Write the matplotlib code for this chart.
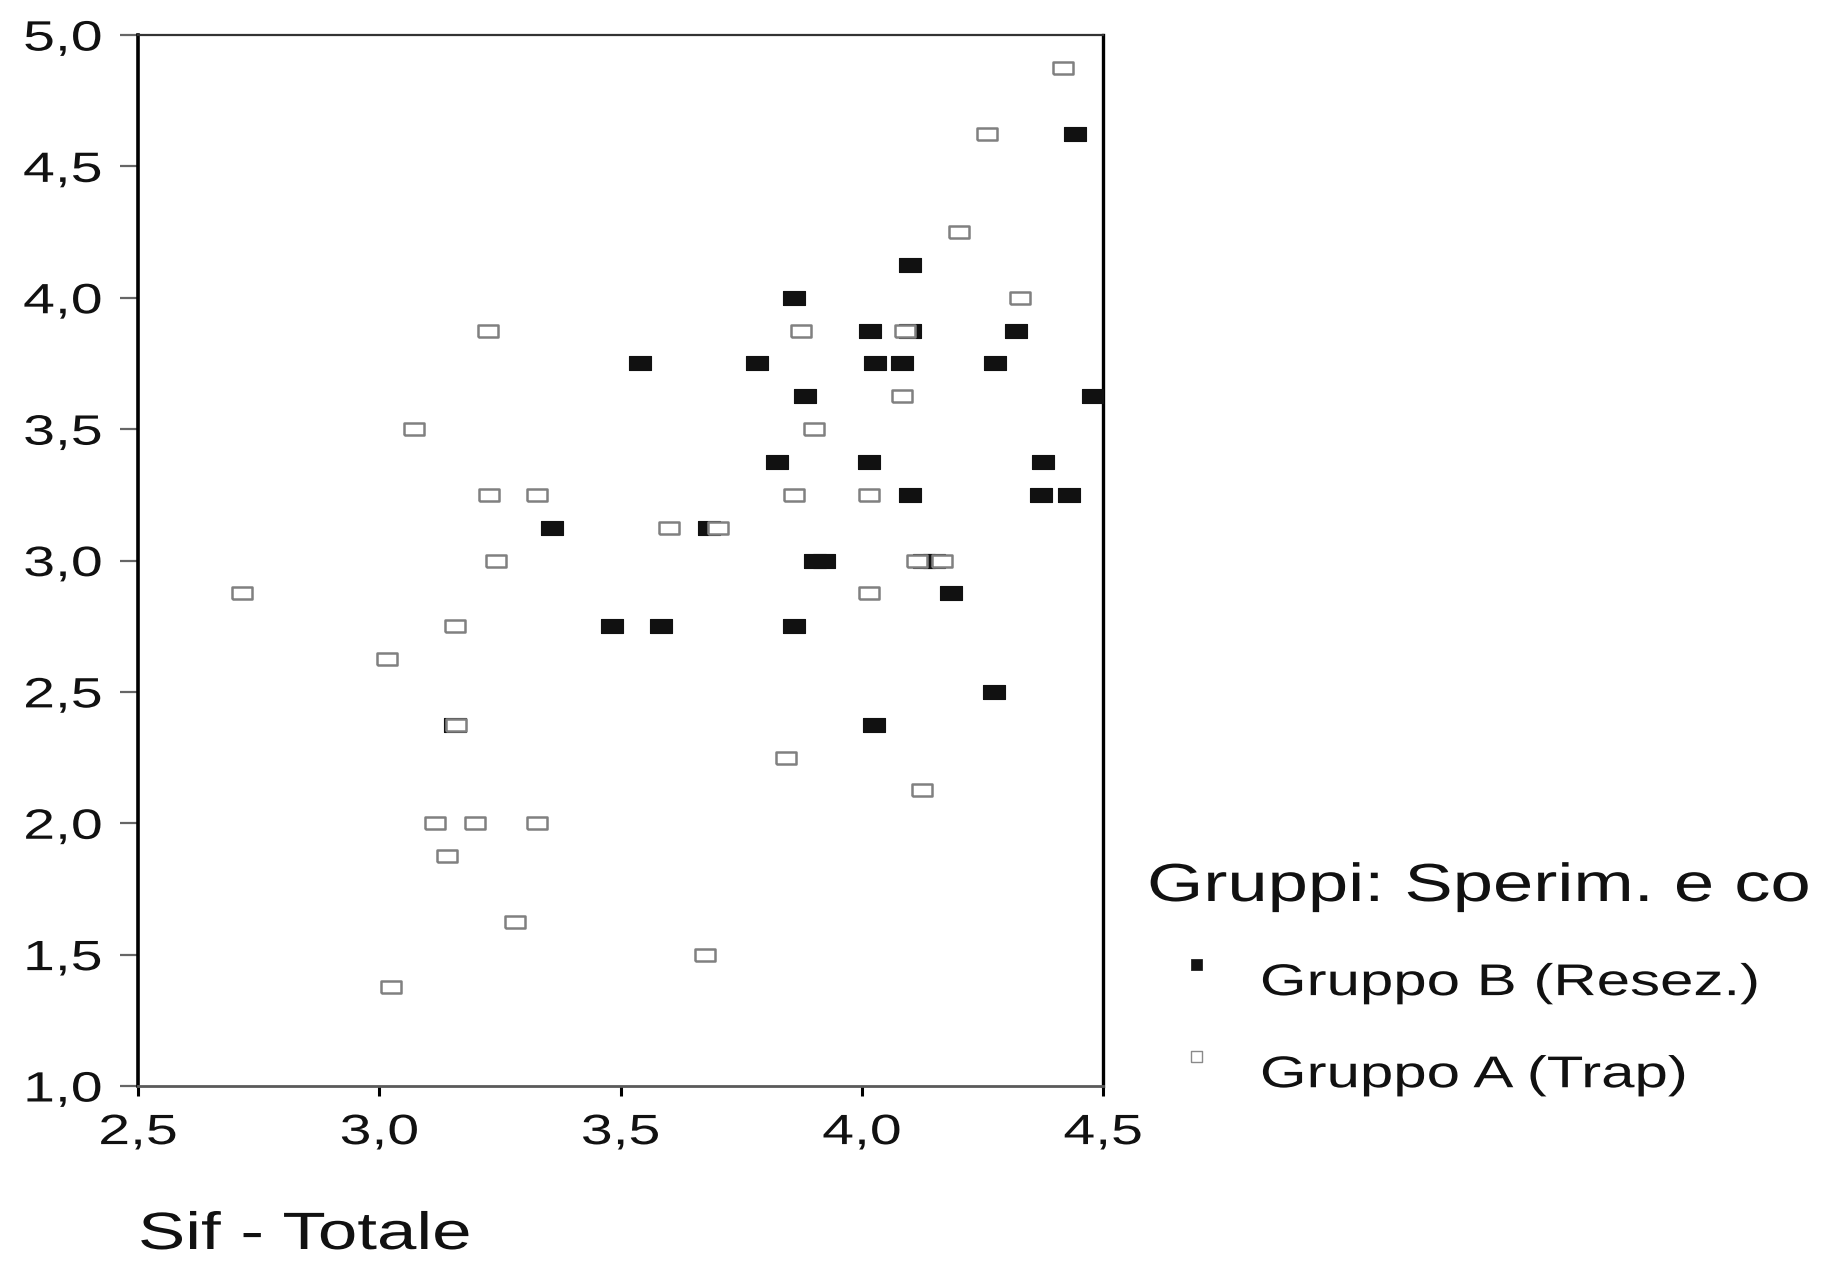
import matplotlib
matplotlib.use("Agg")
import matplotlib.pyplot as plt
from matplotlib.lines import Line2D
from matplotlib.patheffects import AbstractPathEffect
from matplotlib.transforms import Affine2D

# ---------------- data ----------------
groups = ["Gruppo B (Resez.)", "Gruppo A (Trap)"]
legend_title = "Gruppi: Sperim. e co"
x_label = "Sif - Totale"

x_ticks = [2.5, 3.0, 3.5, 4.0, 4.5]
x_tick_labels = ["2,5", "3,0", "3,5", "4,0", "4,5"]
y_ticks = [1.0, 1.5, 2.0, 2.5, 3.0, 3.5, 4.0, 4.5, 5.0]
y_tick_labels = ["1,0", "1,5", "2,0", "2,5", "3,0", "3,5", "4,0", "4,5", "5,0"]

# Gruppo B (Resez.) - filled markers
b_x = [4.442, 4.101, 3.860, 4.017, 4.100, 4.320, 3.540, 3.783, 4.027, 4.083,
       4.277, 3.882, 4.480, 3.824, 4.016, 4.375, 4.101, 4.371, 4.429, 3.358,
       3.684, 3.903, 3.922, 4.130, 4.150, 4.184, 3.483, 3.583, 3.860, 4.274,
       4.026, 3.157]
b_y = [4.625, 4.125, 4.000, 3.875, 3.875, 3.875, 3.750, 3.750, 3.750, 3.750,
       3.750, 3.625, 3.625, 3.375, 3.375, 3.375, 3.250, 3.250, 3.250, 3.125,
       3.125, 3.000, 3.000, 3.000, 3.000, 2.875, 2.750, 2.750, 2.750, 2.500,
       2.375, 2.375]

# Gruppo A (Trap) - open markers
a_x = [4.418, 4.260, 4.201, 4.327, 3.226, 3.875, 4.090, 4.083, 3.073, 3.901,
       3.227, 3.326, 3.860, 4.016, 3.600, 3.702, 3.242, 4.114, 4.166, 4.016,
       2.715, 3.158, 3.016, 3.160, 3.842, 4.125, 3.116, 3.199, 3.326, 3.141,
       3.282, 3.676, 3.024]
a_y = [4.875, 4.625, 4.250, 4.000, 3.875, 3.875, 3.875, 3.625, 3.500, 3.500,
       3.250, 3.250, 3.250, 3.250, 3.125, 3.125, 3.000, 3.000, 3.000, 2.875,
       2.875, 2.750, 2.625, 2.375, 2.250, 2.125, 2.000, 2.000, 2.000, 1.875,
       1.625, 1.500, 1.375]


# ---------------- helpers ----------------
class HStretch(AbstractPathEffect):
    """Render text horizontally stretched (text stays a real Text artist)."""

    def __init__(self, sx=1.35, anchor="left"):
        super().__init__()
        self.sx = sx
        self.anchor = anchor

    def draw_path(self, renderer, gc, tpath, affine, rgbFace=None):
        bb = tpath.get_extents(affine)
        if self.anchor == "left":
            xa = affine.transform((0, 0))[0]
        elif self.anchor == "right":
            xa = bb.x1
        else:
            xa = 0.5 * (bb.x0 + bb.x1)
        new = affine + Affine2D().translate(-xa, 0).scale(self.sx, 1.0).translate(xa, 0)
        renderer.draw_path(gc, tpath, new, rgbFace)


SX = 1.35
plt.rcParams["font.family"] = ["Liberation Sans", "DejaVu Sans"]

W, H = 1821, 1263
fig = plt.figure(figsize=(W / 100, H / 100), dpi=100)
fig.patch.set_facecolor("white")

ax_left, ax_right, ax_top, ax_bottom = 138, 1103, 35, 1086
ax = fig.add_axes([ax_left / W, 1 - ax_bottom / H,
                   (ax_right - ax_left) / W, (ax_bottom - ax_top) / H])

rect_b = [(-1, -0.58), (1, -0.58), (1, 0.58), (-1, 0.58), (-1, -0.58)]
rect_a = [(-1, -0.66), (1, -0.66), (1, 0.66), (-1, 0.66), (-1, -0.66)]

ax.plot(b_x, b_y, ls="none", marker=rect_b, ms=16.5, mfc="#111111", mec="#111111",
        mew=0.8, zorder=3, label=groups[0])
ax.plot(a_x, a_y, ls="none", marker=rect_a, ms=14, mfc="white", mec="#808080",
        mew=1.8, zorder=4, label=groups[1])

ax.set_xlim(2.5, 4.5)
ax.set_ylim(1.0, 5.0)
ax.set_xticks(x_ticks, x_tick_labels)
ax.set_yticks(y_ticks, y_tick_labels)

ax.tick_params(axis="y", direction="out", length=13, width=1.6, color="#666666",
               pad=13, labelsize=30.5, labelcolor="#111111")
ax.tick_params(axis="x", direction="out", length=7.5, width=2.2, color="black",
               pad=12, labelsize=30.5, labelcolor="#111111")

ax.spines["left"].set(linewidth=2.6, color="black")
ax.spines["right"].set(linewidth=2.4, color="black")
ax.spines["top"].set(linewidth=1.6, color="#333333")
ax.spines["bottom"].set(linewidth=2.0, color="#5a5a5a")

for lbl in ax.get_xticklabels():
    lbl.set_path_effects([HStretch(SX, "center")])
for lbl in ax.get_yticklabels():
    lbl.set_path_effects([HStretch(SX, "right")])

# x label (left aligned, at the very bottom of the figure)
ax.set_xlabel(x_label, fontsize=37.8, color="#111111")
ax.xaxis.set_label_coords(0.0, -(1249 - ax_bottom) / (ax_bottom - ax_top))
ax.xaxis.label.set_horizontalalignment("left")
ax.xaxis.label.set_verticalalignment("baseline")
ax.xaxis.label.set_path_effects([HStretch(SX, "left")])

# legend
h, d = 5.5, 16.0
leg_marker = [(-h, d - h), (h, d - h), (h, d + h), (-h, d + h), (-h, d - h)]
leg_ms = 2 * (d + h) * 72 / 100
handles = [
    Line2D([], [], ls="none", marker=leg_marker, ms=leg_ms, mfc="#111111",
           mec="#111111", mew=0.5, label=groups[0]),
    Line2D([], [], ls="none", marker=leg_marker, ms=leg_ms, mfc="white",
           mec="#8a8a8a", mew=1.0, label=groups[1]),
]
leg = ax.legend(handles=handles, title=legend_title, loc="upper left",
                bbox_to_anchor=(1147 / W, 1 - 862 / H), bbox_transform=fig.transFigure,
                frameon=False, fontsize=32, title_fontsize=38.6, alignment="left",
                borderpad=0, borderaxespad=0, handlelength=2.2, handletextpad=0.34,
                labelspacing=1.15, numpoints=1)
for t in leg.get_texts():
    t.set_color("#111111")
    t.set_path_effects([HStretch(SX, "left")])
leg.get_title().set_color("#111111")
leg.get_title().set_path_effects([HStretch(SX, "left")])

fig.savefig("out.png", dpi=100)
